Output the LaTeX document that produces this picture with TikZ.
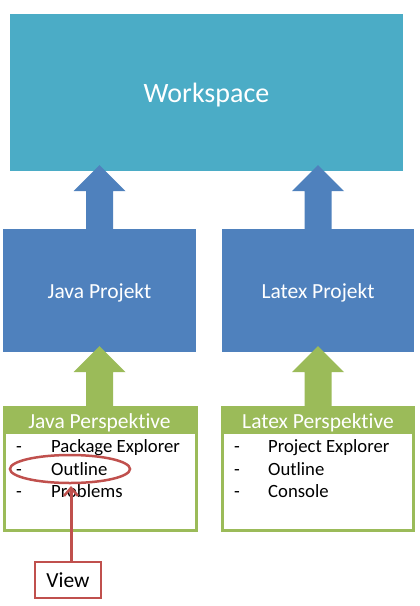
\documentclass[tikz,border=0pt]{standalone}
\usepackage{fontspec}
\setmainfont{Carlito}[Ligatures=NoCommon]
\usetikzlibrary{arrows.meta,calc}
\definecolor{wsblue}{HTML}{4BACC6}
\definecolor{prblue}{HTML}{4F81BD}
\definecolor{pgreen}{HTML}{9BBB59}
\definecolor{vred}{HTML}{C0504D}
\newcommand\blockarrow[3]{%
  \fill[#3] let \p1=(#1), \p2=(#2) in
    (\x1-13.5pt,\y1) -- (\x1-13.5pt,\y2-26pt) -- (\x1-26pt,\y2-26pt) -- (\x1,\y2)
    -- (\x1+26pt,\y2-26pt) -- (\x1+13.5pt,\y2-26pt) -- (\x1+13.5pt,\y1) -- cycle;}
\begin{document}
\begin{tikzpicture}[x=1pt,y=-1pt,
  wsbox/.style={fill=wsblue,minimum width=393pt,minimum height=157pt,inner sep=0pt},
  prbox/.style={fill=prblue,minimum height=123pt,inner sep=0pt},
  pebody/.style={draw=pgreen,line width=3pt,inner sep=0pt,minimum width=192pt,minimum height=123pt},
  pehead/.style={fill=pgreen,inner sep=0pt,minimum height=28pt},
  lbl/.style={anchor=base,inner sep=0pt,text=white},
  item/.style={anchor=base west,inner sep=0pt,font=\fontsize{18.7}{21}\selectfont},
  viewbox/.style={draw=vred,line width=2pt,minimum width=66pt,minimum height=36pt,inner sep=0pt}]
\useasboundingbox (0,0) rectangle (420,606);
% Workspace
\node[wsbox] (ws) at (206.5,92.5) {};
\node[lbl,font=\fontsize{28}{32}\selectfont] (wst) at (206.5,102) {Workspace};
% projects
\node[prbox,minimum width=193pt] (jp) at (99.5,290.5) {};
\node[lbl,font=\fontsize{21.5}{24}\selectfont] (jpt) at (99.5,298) {Java Projekt};
\node[prbox,minimum width=192pt] (lp) at (318,290.5) {};
\node[lbl,font=\fontsize{21.5}{24}\selectfont] (lpt) at (318,298) {Latex Projekt};
% perspectives
\node[pebody] (jpe) at (100.5,469) {};
\node[pehead,minimum width=195pt] (jph) at (100.5,420) {};
\node[lbl,font=\fontsize{21.5}{24}\selectfont] (jpht) at (99.5,428) {Java Perspektive};
\node[pebody,minimum width=191pt] (lpe) at (318,469) {};
\node[pehead,minimum width=194pt] (lph) at (318,420) {};
\node[lbl,font=\fontsize{21.5}{24}\selectfont] (lpht) at (318,428) {Latex Perspektive};
% arrow tips
\coordinate (t1) at (99.5,165);
\coordinate (t2) at (318,165);
\coordinate (t3) at (99.5,346);
\coordinate (t4) at (318,346);
\coordinate (b3) at (99.5,406);
\coordinate (b4) at (318,406);
\blockarrow{jp.north}{t1}{prblue}
\blockarrow{lp.north}{t2}{prblue}
\blockarrow{b3}{t3}{pgreen}
\blockarrow{b4}{t4}{pgreen}
% list items
\node[item] (j1d) at (16,452) {-};
\node[item] (j1) at (51,452) {Package Explorer};
\node[item] (j2d) at (16,475) {-};
\node[item] (j2) at (51,475) {Outline};
\node[item] (j3d) at (16,497) {-};
\node[item] (j3) at (51,497) {Problems};
\node[item] (l1d) at (234,452) {-};
\node[item] (l1) at (268,452) {Project Explorer};
\node[item] (l2d) at (234,475) {-};
\node[item] (l2) at (268,475) {Outline};
\node[item] (l3d) at (234,497) {-};
\node[item] (l3) at (268,497) {Console};
% highlight
\draw[vred,line width=2.5pt] (70,469) ellipse [x radius=60,y radius=14];
\coordinate (eb) at (71,486);
\node[viewbox] (view) at (68,580) {};
\node[anchor=base,inner sep=0pt,font=\fontsize{21.5}{24}\selectfont] (viewt) at (68,587) {View};
\draw[vred,line width=3pt,-{Straight Barb[length=8pt,width=14pt,line width=2.5pt]}] ($(view.north)+(3,0)$) -- (eb);
\end{tikzpicture}
\end{document}
